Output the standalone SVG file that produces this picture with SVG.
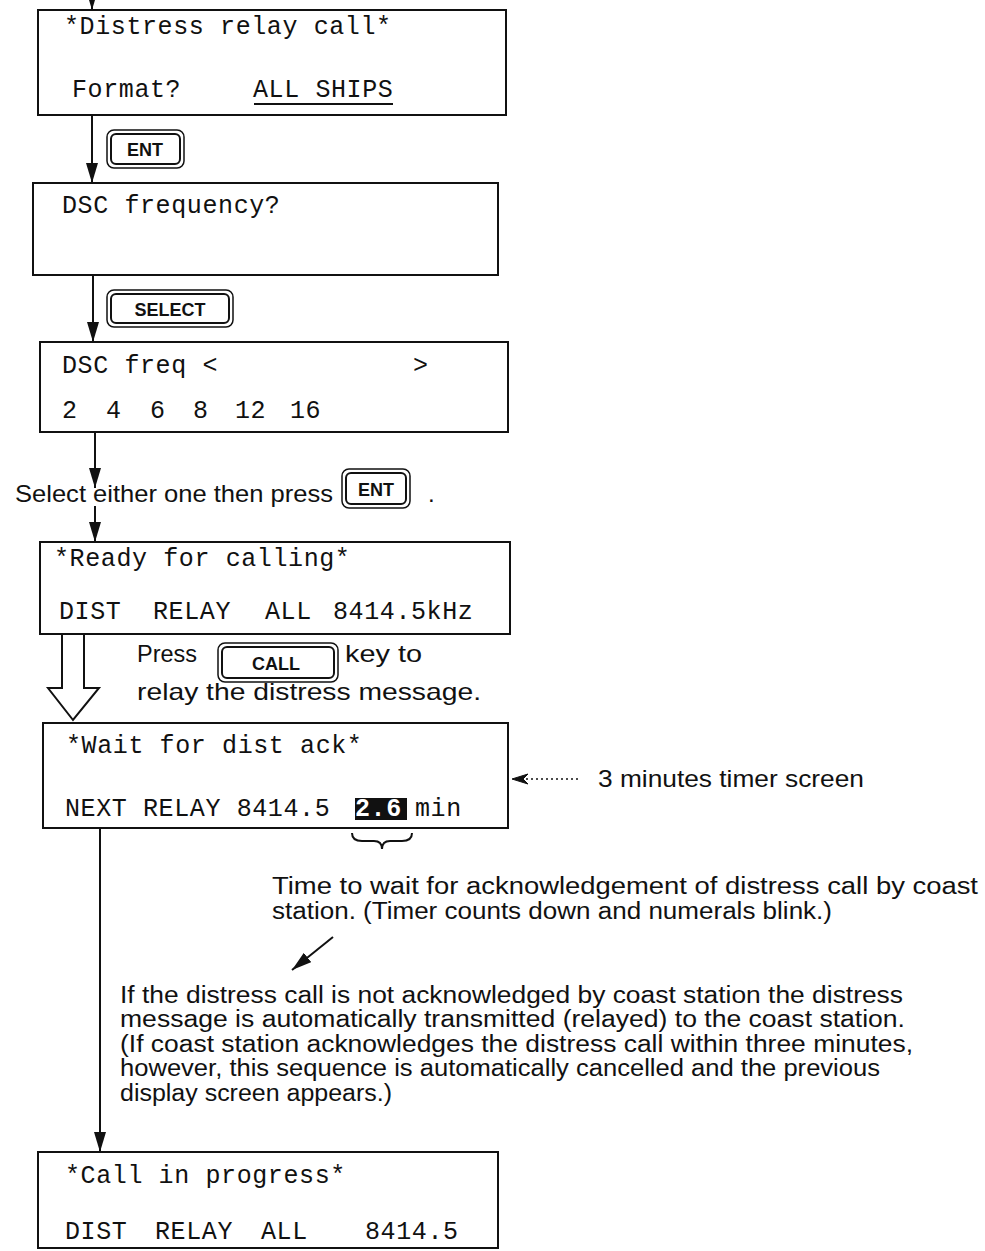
<svg xmlns="http://www.w3.org/2000/svg" width="985" height="1251" viewBox="0 0 985 1251">
<style>
.box{fill:#fff;stroke:#111;stroke-width:2}
.m{font-family:"Liberation Mono",monospace;font-size:25px;letter-spacing:0.6px;fill:#111}
.s{font-family:"Liberation Sans",Arial,sans-serif;font-size:24px;fill:#111}
.n{font-family:"Liberation Sans",Arial,sans-serif;font-size:23px;fill:#111}
.k{font-family:"Liberation Sans",Arial,sans-serif;font-size:18px;font-weight:bold;fill:#111;text-anchor:middle}
.ko{fill:#fff;stroke:#111;stroke-width:1.5}
.ki{fill:none;stroke:#111;stroke-width:2}
.c{stroke:#111;stroke-width:2;fill:none}
</style>
<defs>
<marker id="ah" markerUnits="userSpaceOnUse" markerWidth="20" markerHeight="12" refX="20" refY="6" orient="auto">
<path d="M0,0 L20,6 L0,12 z" fill="#111"/>
</marker>
</defs>
<rect width="985" height="1251" fill="#fff"/>

<g id="connectors">
<line class="c" x1="92" y1="-10" x2="92" y2="10" marker-end="url(#ah)"/>
<line class="c" x1="92" y1="115" x2="92" y2="183" marker-end="url(#ah)"/>
<line class="c" x1="93" y1="275" x2="93" y2="342" marker-end="url(#ah)"/>
<line class="c" x1="95" y1="432" x2="95" y2="488" marker-end="url(#ah)"/>
<line class="c" x1="95" y1="506" x2="95" y2="542" marker-end="url(#ah)"/>
<path class="c" d="M62,634 L62,688 L48,688 L73,720 L99,688 L84,688 L84,634" fill="#fff"/>
<line class="c" x1="100" y1="828" x2="100" y2="1152" marker-end="url(#ah)"/>
<line x1="578" y1="779" x2="522" y2="779" stroke="#111" stroke-width="1.5" stroke-dasharray="2,3"/>
<path d="M512,779 L528,774 L523,779 L528,784 z" fill="#111" stroke="#111" stroke-width="1"/>
<line class="c" x1="333" y1="937" x2="292" y2="970" stroke-width="1.5" marker-end="url(#ah)"/>
<path class="c" stroke-width="1.5" d="M352,833 q0,8 10,8 h12 q8,0 8,8 q0,-8 8,-8 h12 q10,0 10,-8"/>
</g>

<g id="n1">
<rect class="box" x="38" y="10" width="468" height="105"/>
<text class="m" x="64" y="34">*Distress relay call*</text>
<text class="m" x="72" y="97">Format?</text>
<text class="m" x="253" y="97">ALL SHIPS</text>
<line x1="254" y1="104" x2="393" y2="104" stroke="#111" stroke-width="2"/>
</g>

<g id="k1">
<rect class="ko" x="107" y="130" width="77" height="38" rx="7"/>
<rect class="ki" x="111" y="134" width="69" height="30" rx="5"/>
<text class="k" x="145" y="156">ENT</text>
</g>

<g id="n2">
<rect class="box" x="33" y="183" width="465" height="92"/>
<text class="m" x="62" y="213">DSC frequency?</text>
</g>

<g id="k2">
<rect class="ko" x="107" y="290" width="126" height="37" rx="7"/>
<rect class="ki" x="111" y="294" width="118" height="29" rx="5"/>
<text class="k" x="170" y="316">SELECT</text>
</g>

<g id="n3">
<rect class="box" x="40" y="342" width="468" height="90"/>
<text class="m" x="62" y="373">DSC freq &lt;</text>
<text class="m" x="413" y="373">&gt;</text>
<text class="m" x="62" y="418">2</text>
<text class="m" x="106" y="418">4</text>
<text class="m" x="150" y="418">6</text>
<text class="m" x="193" y="418">8</text>
<text class="m" x="235" y="418">12</text>
<text class="m" x="290" y="418">16</text>
</g>

<g id="t1">
<text class="s" x="15" y="502" font-size="25" textLength="318" lengthAdjust="spacingAndGlyphs">Select either one then press</text>
<rect class="ko" x="342" y="469" width="68" height="39" rx="7"/>
<rect class="ki" x="346" y="473" width="60" height="31" rx="5"/>
<text class="k" x="376" y="496">ENT</text>
<text class="s" x="428" y="502">.</text>
</g>

<g id="n4">
<rect class="box" x="40" y="542" width="470" height="92"/>
<text class="m" x="54" y="566">*Ready for calling*</text>
<text class="m" x="59" y="619">DIST</text>
<text class="m" x="153" y="619">RELAY</text>
<text class="m" x="265" y="619">ALL</text>
<text class="m" x="333" y="619">8414.5kHz</text>
</g>

<g id="t2">
<text class="s" x="137" y="662" textLength="60" lengthAdjust="spacingAndGlyphs">Press</text>
<rect class="ko" x="218" y="643" width="120" height="39" rx="7"/>
<rect class="ki" x="222" y="647" width="112" height="31" rx="5"/>
<text class="k" x="276" y="670">CALL</text>
<text class="s" x="345" y="662" textLength="77" lengthAdjust="spacingAndGlyphs">key to</text>
<text class="s" x="137" y="700" textLength="344" lengthAdjust="spacingAndGlyphs">relay the distress message.</text>
</g>

<g id="n5">
<rect class="box" x="43" y="723" width="465" height="105"/>
<text class="m" x="66" y="753">*Wait for dist ack*</text>
<text class="m" x="65" y="816">NEXT RELAY 8414.5</text>
<rect x="355" y="798" width="52" height="22" fill="#111"/>
<text class="m" x="355" y="816" font-weight="bold" style="fill:#fff">2.6</text>
<text class="m" x="415" y="816">min</text>
</g>

<g id="t3">
<text class="s" x="598" y="787" textLength="266" lengthAdjust="spacingAndGlyphs">3 minutes timer screen</text>
</g>

<g id="t4">
<text class="n" x="272" y="894" textLength="706" lengthAdjust="spacingAndGlyphs">Time to wait for acknowledgement of  distress call by coast</text>
<text class="n" x="272" y="919" textLength="560" lengthAdjust="spacingAndGlyphs">station. (Timer counts down and numerals blink.)</text>
</g>

<g id="t5">
<text class="n" x="120" y="1003" textLength="783" lengthAdjust="spacingAndGlyphs">If the distress call is not acknowledged by coast station the distress</text>
<text class="n" x="120" y="1027" textLength="785" lengthAdjust="spacingAndGlyphs">message is automatically transmitted (relayed) to the coast station.</text>
<text class="n" x="120" y="1052" textLength="793" lengthAdjust="spacingAndGlyphs">(If coast station acknowledges the distress call within three minutes,</text>
<text class="n" x="120" y="1076" textLength="760" lengthAdjust="spacingAndGlyphs">however, this sequence is automatically cancelled and the previous</text>
<text class="n" x="120" y="1101" textLength="272" lengthAdjust="spacingAndGlyphs">display screen appears.)</text>
</g>

<g id="n6">
<rect class="box" x="38" y="1152" width="460" height="96"/>
<text class="m" x="65" y="1183">*Call in progress*</text>
<text class="m" x="65" y="1239">DIST</text>
<text class="m" x="155" y="1239">RELAY</text>
<text class="m" x="261" y="1239">ALL</text>
<text class="m" x="365" y="1239">8414.5</text>
</g>
</svg>
